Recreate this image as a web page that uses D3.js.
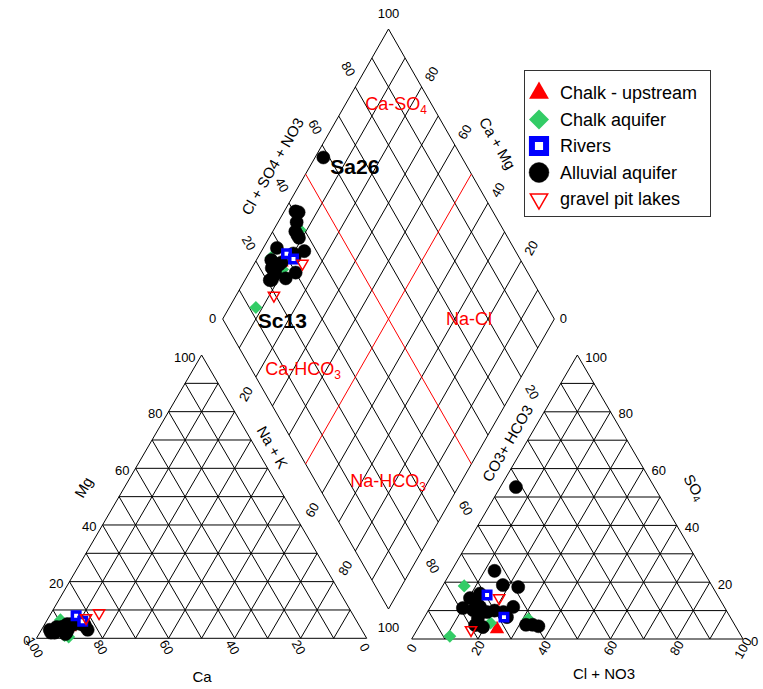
<!DOCTYPE html>
<html><head><meta charset="utf-8">
<script src="https://cdn.jsdelivr.net/npm/d3@7"></script>
<style>body{margin:0;background:#fff}svg{display:block}text{font-family:"Liberation Sans",Arial,sans-serif}</style>
</head><body><svg id="c" width="763" height="689"></svg>
<script>
// ---- data (percent of meq) ----
const tickValues = [0, 20, 40, 60, 80, 100];
const groupNames = ["Chalk - upstream", "Chalk aquifer", "Rivers", "Alluvial aquifer", "gravel pit lakes"];

const chalkUpMg = [4], chalkUpNaK = [8], chalkUpSO4 = [3.5], chalkUpCl = [24];
const chalkMg = [1, 6.5, 0.5, 4], chalkNaK = [8, 4, 9.5, 8], chalkSO4 = [1, 18.7, 5.6, 7], chalkCl = [11, 6.5, 21, 31.7];
const riversMg = [8, 6], riversNaK = [8, 11], riversSO4 = [15.5, 7.7], riversCl = [15, 24];
const alluvialMg  = [3, 2, 3, 4, 5, 3, 5, 4, 6, 5, 4, 2, 3, 2.5, 3.5, 5, 1.5, 2, 4, 3, 5];
const alluvialNaK = [2.5, 3.4, 4.5, 5.6, 6.8, 8, 9, 12.9, 10, 11, 4.1, 4.5, 7.5, 7.4, 7.6, 8, 8, 8.1, 6, 14, 12];
const alluvialSO4 = [53.5, 4.5, 18.3, 5, 5, 24, 19, 11.3, 7.7, 9.5, 16, 14.4, 10.9, 10.2, 11.3, 9.5, 7.4, 4.9, 4.2, 10, 12];
const alluvialCl  = [4.7, 36, 23, 34, 32, 13, 18, 25, 24.9, 22.9, 12.6, 10.4, 10, 13.4, 15, 18, 16.3, 16.7, 19.4, 20, 14];
const lakesMg = [8.9, 7.2], lakesNaK = [14.5, 11.4], lakesSO4 = [14.4, 3.2], lakesCl = [19.2, 16.3];
const sampleLabels = ["Sa26", "Sc13"];

// ---- scales ----
const xL = d3.scaleLinear().domain([0, 1]).range([36.5, 366.7]);
const yL = d3.scaleLinear().domain([0, 1]).range([638.3, 355]);
const xR = d3.scaleLinear().domain([0, 1]).range([411.7, 743]);
const yR = d3.scaleLinear().domain([0, 1]).range([639, 355]);
const xD = d3.scaleLinear().domain([0, 2]).range([222.7, 554.3]);
const yD = d3.scaleLinear().domain([-1, 1]).range([29, 609]);

const cat = (mg, nak) => [xL(nak / 100 + mg / 200), yL(mg / 100)];
const an = (so4, cl) => [xR(cl / 100 + so4 / 200), yR(so4 / 100)];
const dia = (nak, s) => [xD((nak + s) / 100), yD((nak - s) / 100)];

const svg = d3.select("#c");
const gGrid = svg.append("g").attr("fill", "none").attr("stroke", "#000").attr("stroke-width", 1);
const line = d3.line();
function seg(a, b, col) {
  gGrid.append("path").attr("d", line([a, b])).attr("stroke", col || "#000");
}
const steps = d3.range(0, 100, 10);
steps.forEach(v => {
  seg(cat(v, 0), cat(v, 100 - v));
  seg(cat(100 - v, 0), cat(0, 100 - v));
  seg(cat(100 - v, v), cat(0, v));
  seg(an(v, 0), an(v, 100 - v));
  seg(an(100 - v, 0), an(0, 100 - v));
  seg(an(100 - v, v), an(0, v));
});
d3.range(0, 101, 10).forEach(v => {
  if (v === 50) return;
  seg(dia(v, 0), dia(v, 100));
  seg(dia(0, v), dia(100, v));
});
seg(dia(50, 0), dia(50, 100), "#ff0000");
seg(dia(0, 50), dia(100, 50), "#ff0000");

// ---- tick labels ----
const gT = svg.append("g").attr("font-size", 13).attr("fill", "#000");
function lab(x, y, t, rot, anchor) {
  gT.append("text").attr("transform", `translate(${x},${y}) rotate(${rot || 0})`)
    .attr("text-anchor", anchor || "middle").attr("dominant-baseline", "central").text(t);
}
tickValues.forEach(v => {
  let p = cat(v, 0); lab(p[0] - 6, p[1] + 2, v, 0, "end");
  p = cat(0, 100 - v); lab(p[0] - 2, p[1] + 9, v, 60);
  p = an(v, 100 - v); lab(p[0] + 8, p[1] + 2, v, 0, "start");
  p = an(0, v); lab(p[0], p[1] + 9, v, -60);
});
[20, 40, 60, 80].forEach(v => {
  let p = dia(0, v); lab(p[0] - 7, p[1] - 18, v, 60);
  p = dia(100 - v, 100); lab(p[0] + 10, p[1] - 13, v, -60);
});
[20, 60, 80].forEach(v => {
  let p = dia(v, 0); lab(p[0] - 10, p[1] + 17, v, -60);
  p = dia(100, 100 - v); lab(p[0] + 11, p[1] + 15, v, 60);
});
let q = dia(0, 0); lab(q[0] - 10, q[1] - 1, 0);
q = dia(100, 100); lab(q[0] + 9, q[1] - 1, 0);
q = dia(0, 100); lab(q[0], q[1] - 16, 100);
q = dia(100, 0); lab(q[0], q[1] + 18, 100);

// ---- axis titles ----
const gA = svg.append("g").attr("font-size", 15).attr("fill", "#000");
function title(x, y, rot, parts) {
  const t = gA.append("text").attr("transform", `translate(${x},${y}) rotate(${rot})`)
    .attr("text-anchor", "middle").attr("dominant-baseline", "central");
  parts.forEach(p => {
    const s = t.append("tspan").text(p[0]);
    if (p[1]) s.attr("font-size", 10).attr("dy", 4);
  });
}
title(272, 166, -60, [["Cl + SO4 + NO3"]]);
title(498, 143, 60, [["Ca + Mg"]]);
title(273, 447, 60, [["Na + K"]]);
title(507, 443, -60, [["CO3+ HCO3"]]);
title(83, 487, -60, [["Mg"]]);
title(695, 487, 60, [["SO"], ["4", 1]]);
title(202, 676, 0, [["Ca"]]);
title(604, 673, 0, [["Cl + NO3"]]);

// ---- region labels ----
const gRg = svg.append("g").attr("font-size", 18).attr("fill", "#ff0000");
function region(x, y, main, sub) {
  const t = gRg.append("text").attr("x", x).attr("y", y).attr("text-anchor", "middle");
  t.append("tspan").text(main);
  t.append("tspan").text(sub).attr("font-size", 12).attr("dy", 4);
}
region(396, 110, "Ca-SO", "4");
region(469, 325, "Na-Cl", "");
region(303, 375, "Ca-HCO", "3");
region(388, 487, "Na-HCO", "3");

// ---- markers ----
const RED = "#ff0000", GREEN = "#33cc66", BLUE = "#0000ff";
const styles = [
  { type: d3.symbolTriangle, size: 90, fill: RED, stroke: "none", sw: 0, rot: 0 },
  { type: d3.symbolSquare, size: 85, fill: GREEN, stroke: "none", sw: 0, rot: 45 },
  { type: d3.symbolSquare, size: 56, fill: "#fff", stroke: BLUE, sw: 3.5, rot: 0 },
  { type: d3.symbolCircle, size: 135, fill: "#000", stroke: "#000", sw: 0.5, rot: 0 },
  { type: d3.symbolTriangle, size: 55, fill: "none", stroke: RED, sw: 1.5, rot: 180 }
];
const legendStyles = [
  { size: 170 }, { size: 200 }, { size: 200, sw: 6 }, { size: 310 }, { size: 130 }
];
function samples(mg, nak, so4, cl) {
  return mg.map((m, i) => ({ mg: m, nak: nak[i], so4: so4[i], cl: cl[i] }));
}
const groups = [
  samples(chalkUpMg, chalkUpNaK, chalkUpSO4, chalkUpCl),
  samples(chalkMg, chalkNaK, chalkSO4, chalkCl),
  samples(riversMg, riversNaK, riversSO4, riversCl),
  samples(alluvialMg, alluvialNaK, alluvialSO4, alluvialCl),
  samples(lakesMg, lakesNaK, lakesSO4, lakesCl)
];
const drawOrder = [0, 1, 3, 2, 4];
const gM = svg.append("g");
function mark(g, p, st, size, sw) {
  g.append("path").attr("d", d3.symbol().type(st.type).size(size || st.size)())
    .attr("transform", `translate(${p[0]},${p[1]}) rotate(${st.rot})`)
    .attr("fill", st.fill).attr("stroke", st.stroke).attr("stroke-width", sw !== undefined ? sw : st.sw);
}
drawOrder.forEach(gi => {
  const st = styles[gi];
  groups[gi].forEach(d => {
    mark(gM, cat(d.mg, d.nak), st);
    mark(gM, an(d.so4, d.cl), st);
    mark(gM, dia(d.nak, d.so4 + d.cl), st);
  });
});

// sample labels
const gS = svg.append("g").attr("font-size", 21).attr("font-weight", "bold").attr("fill", "#000");
const sa = groups[3][0], sc = groups[1][0];
let ps = dia(sa.nak, sa.so4 + sa.cl);
gS.append("text").attr("x", ps[0] + 7).attr("y", ps[1] + 17).text(sampleLabels[0]);
ps = dia(sc.nak, sc.so4 + sc.cl);
gS.append("text").attr("x", ps[0] + 2).attr("y", ps[1] + 21).text(sampleLabels[1]);

// ---- legend ----
const gLeg = svg.append("g");
gLeg.append("rect").attr("x", 524.5).attr("y", 70.5).attr("width", 186).attr("height", 146)
  .attr("fill", "#fff").attr("stroke", "#333").attr("stroke-width", 1);
groupNames.forEach((name, i) => {
  const y = 93 + i * 26.5;
  const st = styles[i];
  const ls = legendStyles[i];
  mark(gLeg, [539, y], st, ls.size, ls.sw !== undefined ? ls.sw : st.sw);
  gLeg.append("text").attr("x", 560).attr("y", y).attr("dominant-baseline", "central")
    .attr("font-size", 18).attr("fill", "#000").text(name);
});
</script></body></html>
